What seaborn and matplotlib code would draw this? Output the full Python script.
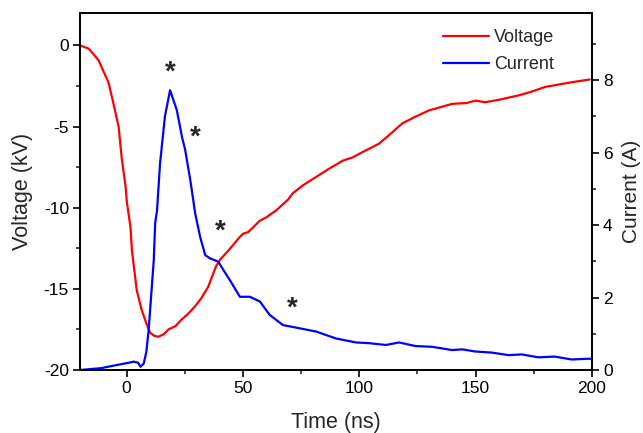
import numpy as np
import pandas as pd
import matplotlib
matplotlib.use("Agg")
import matplotlib.pyplot as plt
import seaborn as sns
from matplotlib.ticker import MultipleLocator
from matplotlib.lines import Line2D

sns.set_style("ticks")
plt.rcParams['font.family'] = ['Liberation Sans', 'DejaVu Sans']
plt.rcParams['axes.unicode_minus'] = False

# Voltage (kV) vs time (ns)
v_time = [-20, -16.2, -12, -7.7, -5.6, -3.4, -2.1, -0.4, 0.1, 1.7, 2.3, 4.4, 6.5, 8.7,
          10.1, 12, 13.7, 16, 18, 21, 23.6, 26, 29.3, 32, 35, 38.5, 40.2, 44, 48.7, 50.1,
          52.3, 57.3, 60, 64.4, 69.4, 71.5, 76, 81.5, 87, 92.9, 97.2, 101, 105.7, 108.5,
          113, 118.5, 124, 130, 135, 139.9, 146, 150, 154, 160, 168.4, 174, 179.8, 186,
          192, 199]
v_volt = [0, -0.2, -0.92, -2.3, -3.6, -5.0, -6.9, -8.7, -9.6, -11.2, -12.6, -15.1, -16.3, -17.2,
          -17.7, -17.9, -17.95, -17.8, -17.5, -17.3, -16.9, -16.6, -16.1, -15.6, -14.9, -13.6, -13.2, -12.6, -11.8, -11.6,
          -11.5, -10.8, -10.6, -10.15, -9.5, -9.1, -8.6, -8.1, -7.6, -7.1, -6.9, -6.6, -6.26, -6.05,
          -5.5, -4.8, -4.4, -4.0, -3.8, -3.6, -3.55, -3.4, -3.5, -3.35, -3.08, -2.85, -2.56, -2.4,
          -2.25, -2.1]

# Current (A) vs time (ns)
i_time = [-20, -11, -4, 1, 3.1, 5, 6, 7.4, 8.5, 9.5, 11.7, 12.3, 13.1, 14.4, 16.5, 18.7,
          21.6, 23.8, 25.2, 27.4, 29.5, 31.6, 33.8, 35.9, 39.4, 41.6, 44.4, 48.7, 53, 57.3,
          61.5, 67.2, 74.4, 81.5, 90, 98.6, 104.3, 111.4, 117.1, 124.2, 131.3, 139.9, 144.2,
          149.9, 157, 164.1, 169.8, 176.9, 184, 191.2, 198.3, 200]
i_curr = [0, 0.05, 0.14, 0.2, 0.23, 0.2, 0.09, 0.18, 0.5, 1.1, 3.03, 4.05, 4.4, 5.7, 7.0, 7.72,
          7.17, 6.44, 6.07, 5.24, 4.32, 3.68, 3.17, 3.08, 2.99, 2.76, 2.48, 2.02, 2.02, 1.89,
          1.52, 1.24, 1.15, 1.06, 0.87, 0.76, 0.74, 0.69, 0.76, 0.66, 0.64, 0.55, 0.57,
          0.51, 0.48, 0.41, 0.43, 0.35, 0.37, 0.29, 0.31, 0.31]

# Asterisk annotations (time, voltage-axis value)
star_t = [18.8, 29.5, 40.2, 71.1]
star_v = [-1.65, -5.7, -11.5, -16.2]

dfv = pd.DataFrame({"Time": v_time, "Voltage": v_volt})
dfi = pd.DataFrame({"Time": i_time, "Current": i_curr})

fig = plt.figure(figsize=(6.43, 4.33), dpi=100)
ax = fig.add_axes([0.1244, 0.1455, 0.7963, 0.8245])
ax2 = ax.twinx()

sns.lineplot(data=dfv, x="Time", y="Voltage", ax=ax, color="#ff0000", lw=1.6)
sns.lineplot(data=dfi, x="Time", y="Current", ax=ax2, color="#0000ff", lw=1.6)

ax.set_xlim(-20, 200)
ax.set_ylim(-20, 2)
ax2.set_ylim(0, 9.85)

ax.xaxis.set_major_locator(MultipleLocator(50))
ax.xaxis.set_minor_locator(MultipleLocator(25))
ax.yaxis.set_major_locator(MultipleLocator(5))
ax.yaxis.set_minor_locator(MultipleLocator(2.5))
ax2.yaxis.set_major_locator(MultipleLocator(2))
ax2.yaxis.set_minor_locator(MultipleLocator(1))

for a in (ax, ax2):
    for s in a.spines.values():
        s.set_visible(True)
        s.set_linewidth(1.3)
        s.set_color("black")
    a.tick_params(which="major", length=5, width=1.2, direction="out", labelsize=12.5,
                  colors="black", pad=3)
    a.tick_params(which="minor", length=3, width=1.2, direction="out")

ax.tick_params(axis="x", which="both", top=False)
ax.set_xlabel("Time (ns)", fontsize=15.5, labelpad=11.5)
ax.set_ylabel("Voltage (kV)", fontsize=15.5, labelpad=8)
ax2.set_ylabel("Current (A)", fontsize=15, labelpad=6.5)

for t, v in zip(star_t, star_v):
    ax.text(t, v, "*", fontsize=20, fontweight="bold", ha="center", va="center")

handles = [Line2D([], [], color="#ff0000", lw=1.6), Line2D([], [], color="#0000ff", lw=1.6)]
ax.legend(handles, ["Voltage", "Current"], loc="upper right", frameon=False, fontsize=13,
          handlelength=2.55, handletextpad=0.25, labelspacing=0.55,
          bbox_to_anchor=(0.958, 1.0))

fig.savefig("out.png", dpi=100)
